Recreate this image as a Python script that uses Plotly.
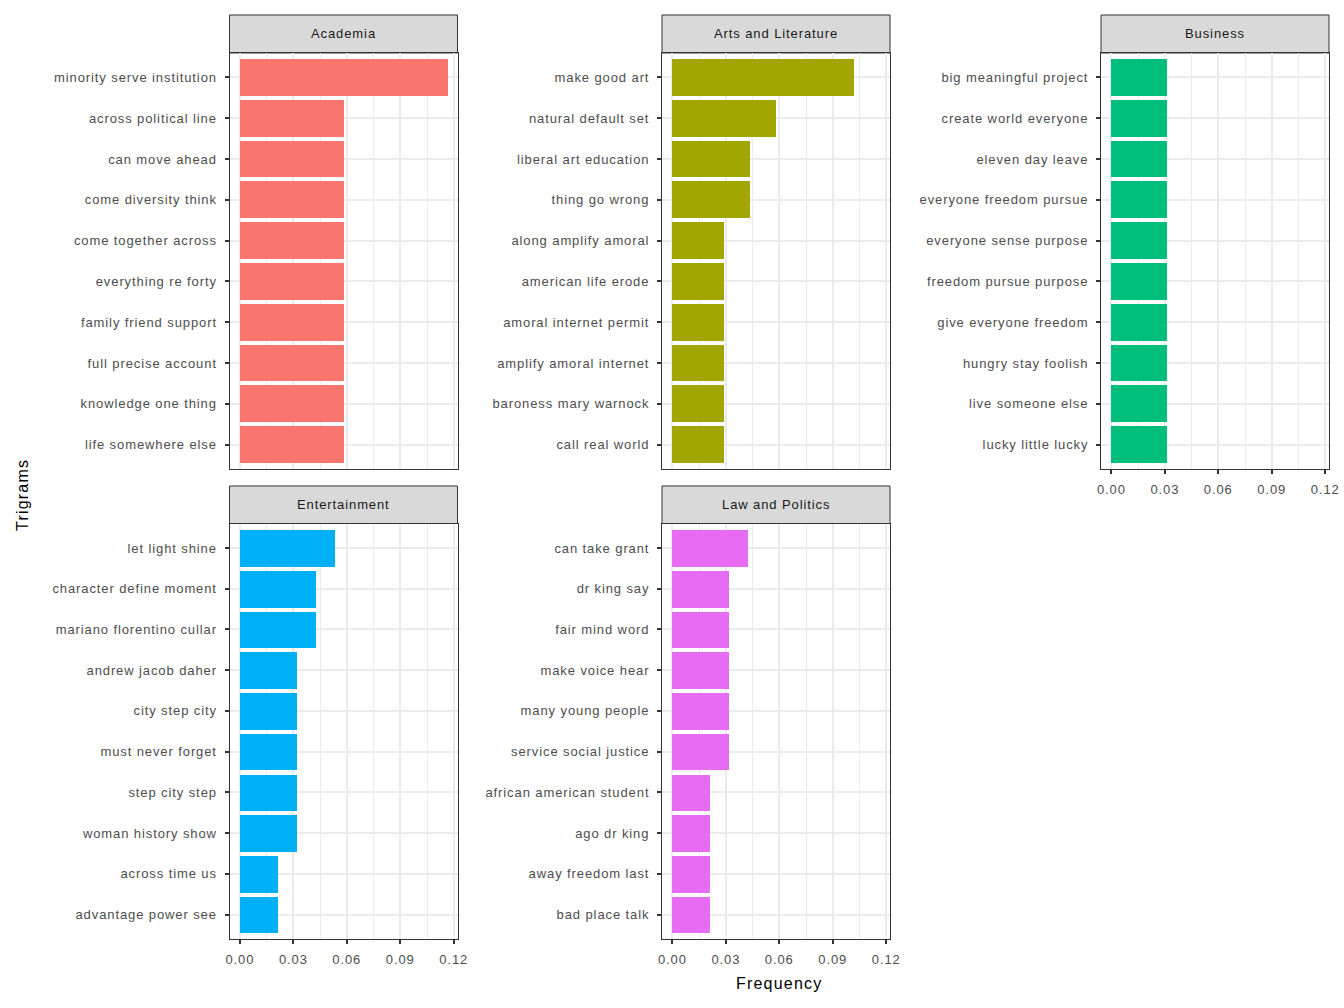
import plotly.graph_objects as go

# trigram frequencies per speaker field, listed top to bottom as shown
academia_terms = ["minority serve institution", "across political line", "can move ahead",
                  "come diversity think", "come together across", "everything re forty",
                  "family friend support", "full precise account", "knowledge one thing",
                  "life somewhere else"]
academia_freq = [0.1163, 0.0581, 0.0581, 0.0581, 0.0581, 0.0581, 0.0581, 0.0581, 0.0581, 0.0581]

arts_terms = ["make good art", "natural default set", "liberal art education", "thing go wrong",
              "along amplify amoral", "american life erode", "amoral internet permit",
              "amplify amoral internet", "baroness mary warnock", "call real world"]
arts_freq = [0.1018, 0.0581, 0.0436, 0.0436, 0.0291, 0.0291, 0.0291, 0.0291, 0.0291, 0.0291]

business_terms = ["big meaningful project", "create world everyone", "eleven day leave",
                  "everyone freedom pursue", "everyone sense purpose", "freedom pursue purpose",
                  "give everyone freedom", "hungry stay foolish", "live someone else",
                  "lucky little lucky"]
business_freq = [0.0310] * 10

entertainment_terms = ["let light shine", "character define moment", "mariano florentino cullar",
                       "andrew jacob daher", "city step city", "must never forget",
                       "step city step", "woman history show", "across time us",
                       "advantage power see"]
entertainment_freq = [0.0529, 0.0423, 0.0423, 0.0317, 0.0317, 0.0317, 0.0317, 0.0317, 0.0211, 0.0211]

law_terms = ["can take grant", "dr king say", "fair mind word", "make voice hear",
             "many young people", "service social justice", "african american student",
             "ago dr king", "away freedom last", "bad place talk"]
law_freq = [0.0425, 0.0318, 0.0318, 0.0318, 0.0318, 0.0318, 0.0212, 0.0212, 0.0212, 0.0212]

x_ticks = [0.0, 0.03, 0.06, 0.09, 0.12]
x_tick_text = ["0.00", "0.03", "0.06", "0.09", "0.12"]

W, H = 1344, 1008
FONT = "Liberation Sans, Arial, sans-serif"


def spaced(s, px=0.9):
    # the R device draws text with a bit of extra tracking
    return f'<span style="letter-spacing:{px}px">{s}</span>'


# (name, terms, freq, colour, column, row, show x tick labels)
panels = [
    ("Academia", academia_terms, academia_freq, "#F8766D", 0, 0, False),
    ("Arts and Literature", arts_terms, arts_freq, "#A3A500", 1, 0, False),
    ("Business", business_terms, business_freq, "#00BF7D", 2, 0, True),
    ("Entertainment", entertainment_terms, entertainment_freq, "#00B0F6", 0, 1, True),
    ("Law and Politics", law_terms, law_freq, "#E76BF3", 1, 1, True),
]

col_px = [(229.5, 457.5), (662, 890), (1101, 1329)]
row_px = [(53, 469), (523.5, 939)]
strip_px = [(15, 53), (486, 523.5)]

fmax = max(academia_freq)
x_range = [-0.05 * fmax, 1.05 * fmax]

fig = go.Figure()
shapes, annotations = [], []
layout = {}

for i, (name, terms, freq, colour, c, r, show_x) in enumerate(panels):
    n = "" if i == 0 else str(i + 1)
    fig.add_trace(go.Bar(
        x=freq, y=terms, orientation="h", width=0.9,
        marker=dict(color=colour, line=dict(width=0)),
        xaxis="x" + n, yaxis="y" + n, showlegend=False,
        hovertemplate="%{y}: %{x}<extra></extra>",
    ))
    x0, x1 = col_px[c]
    y0, y1 = row_px[r]
    layout["xaxis" + n] = dict(
        domain=[x0 / W, x1 / W], anchor="y" + n, range=x_range,
        tickvals=x_ticks, ticktext=[spaced(t) for t in x_tick_text], showticklabels=show_x,
        ticks="outside" if show_x else "", ticklen=4, tickwidth=1.6, tickcolor="#333333",
        tickfont=dict(family=FONT, size=13, color="#4D4D4D"), ticklabelstandoff=4,
        showgrid=True, gridcolor="#EBEBEB", gridwidth=1.6,
        minor=dict(tickvals=[0.015, 0.045, 0.075, 0.105], showgrid=True,
                   gridcolor="#EBEBEB", gridwidth=0.8),
        showline=True, linecolor="#333333", linewidth=1, mirror=True,
        zeroline=False, fixedrange=True,
    )
    layout["yaxis" + n] = dict(
        domain=[1 - y1 / H, 1 - y0 / H], anchor="x" + n, type="category",
        categoryorder="array", categoryarray=terms, range=[len(terms) - 0.4, -0.6],
        tickvals=terms, ticktext=[spaced(t) for t in terms],
        ticks="outside", ticklen=4, tickwidth=1.6, tickcolor="#333333",
        tickfont=dict(family=FONT, size=13, color="#4D4D4D"), ticklabelstandoff=5,
        showgrid=True, gridcolor="#EBEBEB", gridwidth=1.6,
        showline=True, linecolor="#333333", linewidth=1, mirror=True,
        zeroline=False, fixedrange=True,
    )
    s0, s1 = strip_px[r]
    shapes.append(dict(type="rect", xref="paper", yref="paper",
                       x0=x0 / W, x1=x1 / W, y0=1 - s1 / H, y1=1 - s0 / H,
                       fillcolor="#D9D9D9", line=dict(color="#333333", width=1), layer="below"))
    annotations.append(dict(text=spaced(name), xref="paper", yref="paper",
                            x=(x0 + x1) / 2 / W, y=1 - (s0 + s1) / 2 / H,
                            showarrow=False, xanchor="center", yanchor="middle",
                            font=dict(family=FONT, size=13, color="#1A1A1A")))

annotations.append(dict(text=spaced("Frequency", 1.2), xref="paper", yref="paper",
                        x=779 / W, y=1 - 983 / H,
                        showarrow=False, xanchor="center", yanchor="middle",
                        font=dict(family=FONT, size=16, color="#000000")))
annotations.append(dict(text=spaced("Trigrams", 1.2), xref="paper", yref="paper",
                        x=22 / W, y=1 - 495 / H,
                        showarrow=False, textangle=-90, xanchor="center", yanchor="middle",
                        font=dict(family=FONT, size=16, color="#000000")))

fig.update_layout(
    width=W, height=H, margin=dict(l=0, r=0, t=0, b=0, autoexpand=False),
    paper_bgcolor="white", plot_bgcolor="white", bargap=0,
    shapes=shapes, annotations=annotations, **layout,
)

fig.write_html("out.html", config={"displayModeBar": False},
               post_script="document.body.style.margin='0';document.body.style.overflow='hidden';")
